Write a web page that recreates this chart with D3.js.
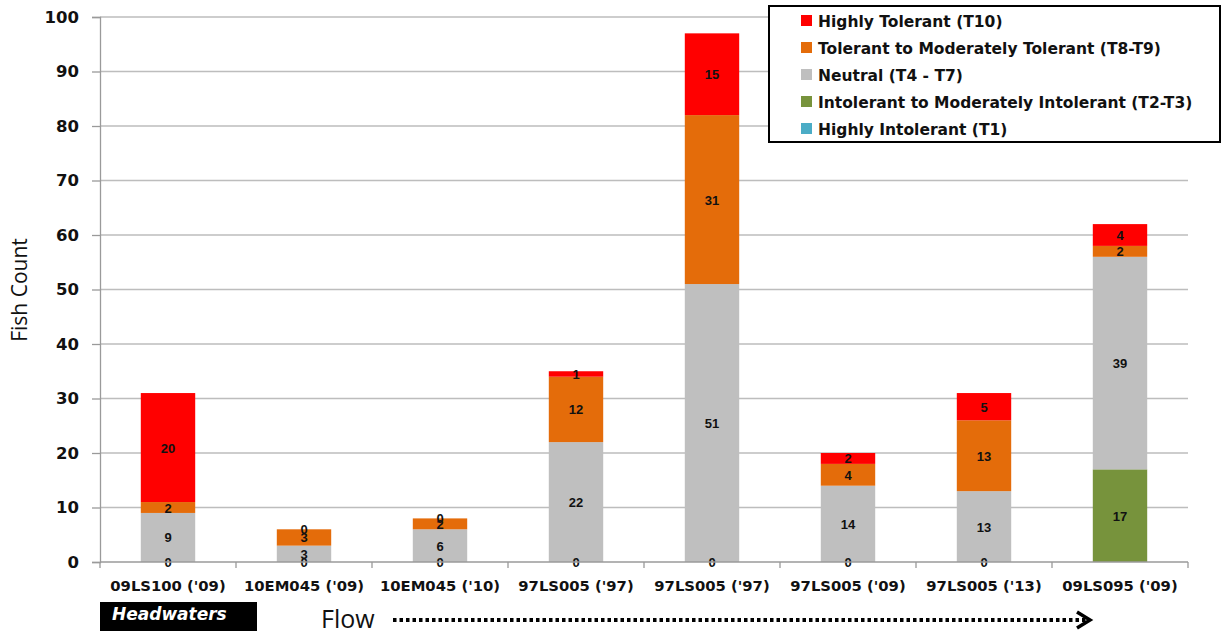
<!DOCTYPE html>
<html><head><meta charset="utf-8">
<script src="https://cdn.jsdelivr.net/npm/d3@7"></script>
<style>body{margin:0;background:#fff}svg{display:block}</style>
</head><body>
<svg id="c" width="1225" height="635"></svg>
<script>
const categories = ["09LS100 ('09)","10EM045 ('09)","10EM045 ('10)","97LS005 ('97)","97LS005 ('97)","97LS005 ('09)","97LS005 ('13)","09LS095 ('09)"];
const highlyIntolerant = [0,0,0,0,0,0,0,0];
const intolerant = [0,0,0,0,0,0,0,17];
const neutral = [9,3,6,22,51,14,13,39];
const tolerant = [2,3,2,12,31,4,13,2];
const highlyTolerant = [20,0,0,1,15,2,5,4];
const yTicks = [0,10,20,30,40,50,60,70,80,90,100];

const seriesNames = ["Highly Intolerant (T1)","Intolerant to Moderately Intolerant (T2-T3)","Neutral (T4 - T7)","Tolerant to Moderately Tolerant (T8-T9)","Highly Tolerant (T10)"];
const seriesData = [highlyIntolerant,intolerant,neutral,tolerant,highlyTolerant];
const colors = ["#4BACC6","#77933C","#BFBFBF","#E46C0A","#FF0000"];
const showLabels = [false,true,true,true,true];

const svg = d3.select("#c");
const L=100,R=1188,T=17,B=562;
const x = d3.scaleBand().domain(d3.range(categories.length)).range([L,R]).paddingInner(0.6).paddingOuter(0.3);
const xb = d3.scaleBand().domain(d3.range(categories.length)).range([L,R]);
const y = d3.scaleLinear().domain([0,100]).range([B,T]);

// gridlines
svg.append("g").selectAll("line").data(yTicks.slice(1)).join("line")
  .attr("x1",L).attr("x2",R).attr("y1",d=>y(d)).attr("y2",d=>y(d))
  .attr("stroke","#BDBDBD").attr("stroke-width",1.3);

const rows = categories.map((c,i)=>{const o={i}; seriesData.forEach((s,k)=>o[k]=s[i]); return o;});
const stack = d3.stack().keys(d3.range(seriesData.length))(rows);

const g = svg.append("g");
stack.forEach((layer,k)=>{
  g.append("g").selectAll("rect").data(layer).join("rect")
    .attr("x",(d,i)=>x(i)).attr("width",x.bandwidth())
    .attr("y",d=>y(d[1])).attr("height",d=>y(d[0])-y(d[1]))
    .attr("fill",colors[k]);
});
// labels
stack.forEach((layer,k)=>{
  if(!showLabels[k]) return;
  g.append("g").selectAll("text").data(layer).join("text")
    .attr("x",(d,i)=>x(i)+x.bandwidth()/2)
    .attr("y",d=>y((d[0]+d[1])/2)+5)
    .attr("text-anchor","middle")
    .attr("font-family","Liberation Sans, Arial, sans-serif").attr("font-weight","bold").attr("font-size",13)
    .attr("fill","#111")
    .text(d=>d[1]-d[0]);
});

// axes
const yAxis = svg.append("g").attr("transform",`translate(${L},0)`)
  .call(d3.axisLeft(y).tickValues(yTicks).tickSize(8).tickPadding(13));
yAxis.select(".domain").attr("stroke","#9a9a9a").attr("stroke-width",1.3);
yAxis.selectAll(".tick line").attr("stroke","#9a9a9a").attr("stroke-width",1.3);
yAxis.selectAll("text").attr("font-family","DejaVu Sans, Verdana, sans-serif").attr("font-weight","bold").attr("font-size",16.5).attr("fill","#111");

const xAxisG = svg.append("g").attr("transform",`translate(0,${B})`);
xAxisG.append("line").attr("x1",L).attr("x2",R).attr("stroke","#9a9a9a").attr("stroke-width",1.3);
xAxisG.selectAll("line.tk").data(d3.range(categories.length+1)).join("line").attr("class","tk")
  .attr("x1",i=>i<categories.length?xb(i):R).attr("x2",i=>i<categories.length?xb(i):R)
  .attr("y1",0).attr("y2",6).attr("stroke","#9a9a9a").attr("stroke-width",1.3);
xAxisG.selectAll("text").data(categories).join("text")
  .attr("x",(d,i)=>xb(i)+xb.bandwidth()/2).attr("y",29)
  .attr("text-anchor","middle")
  .attr("font-family","DejaVu Sans, Verdana, sans-serif").attr("font-weight","bold").attr("font-size",14.8).attr("fill","#111")
  .text(d=>d);

// y title
svg.append("text").attr("transform",`translate(27,${290}) rotate(-90)`)
  .attr("text-anchor","middle").attr("font-family","Open Sans, Liberation Sans, sans-serif").attr("font-size",21).attr("fill","#111")
  .text("Fish Count");

// legend
const lg = svg.append("g");
lg.append("rect").attr("x",769).attr("y",6).attr("width",451).attr("height",136).attr("fill","#fff").attr("stroke","#000").attr("stroke-width",2);
const legOrder = [4,3,2,1,0];
legOrder.forEach((k,j)=>{
  const yy = 21 + j*27;
  lg.append("rect").attr("x",801).attr("y",yy-6).attr("width",11).attr("height",11).attr("fill",colors[k]);
  lg.append("text").attr("x",818).attr("y",yy+6).attr("font-family","DejaVu Sans, Verdana, sans-serif").attr("font-weight","bold").attr("font-size",15.5).attr("fill","#111").text(seriesNames[k]);
});

// headwaters
svg.append("rect").attr("x",100).attr("y",602).attr("width",157).attr("height",29).attr("fill","#000");
svg.append("text").attr("x",112).attr("y",620).attr("font-family","DejaVu Sans, Verdana, sans-serif").attr("font-weight","bold").attr("font-style","italic").attr("font-size",17).attr("fill","#fff").text("Headwaters");

// flow
svg.append("text").attr("x",321).attr("y",628).attr("font-family","Open Sans, Liberation Sans, sans-serif").attr("font-size",25).attr("fill","#111").text("Flow");
svg.append("line").attr("x1",393).attr("x2",1086).attr("y1",620).attr("y2",620).attr("stroke","#000").attr("stroke-width",4).attr("stroke-dasharray","3.5,3");
svg.append("path").attr("d","M1077,612 L1090,620 L1077,628").attr("fill","none").attr("stroke","#000").attr("stroke-width",3.5);
</script>
</body></html>
